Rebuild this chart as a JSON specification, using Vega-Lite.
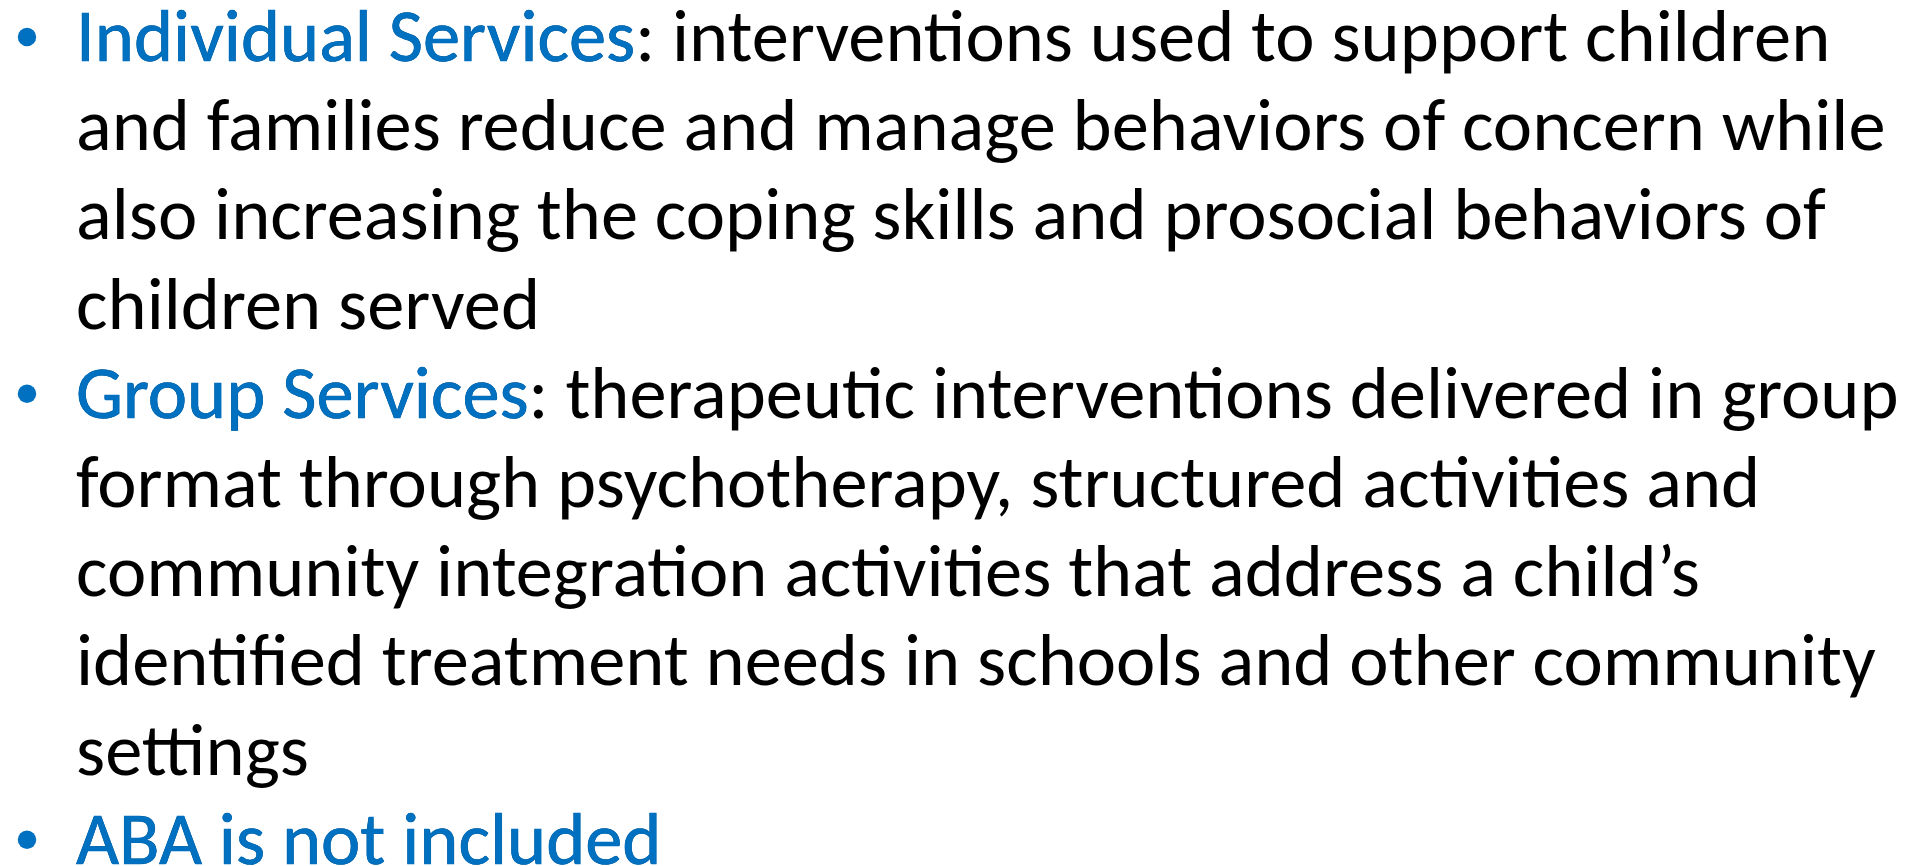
{
  "$schema": "https://vega.github.io/schema/vega-lite/v6.json",
  "width": 1916,
  "height": 866,
  "autosize": {"type": "fit", "contains": "padding"},
  "padding": 0,
  "background": "white",
  "config": {"view": {"stroke": null}},
  "data": {
    "values": [
      {"line": 1, "text": "Individual Services: interventions used to support children", "lead": "Individual Services", "bullet": 1},
      {"line": 2, "text": "and families reduce and manage behaviors of concern while", "lead": "", "bullet": 0},
      {"line": 3, "text": "also increasing the coping skills and prosocial behaviors of", "lead": "", "bullet": 0},
      {"line": 4, "text": "children served", "lead": "", "bullet": 0},
      {"line": 5, "text": "Group Services: therapeutic interventions delivered in group", "lead": "Group Services", "bullet": 1},
      {"line": 6, "text": "format through psychotherapy, structured activities and", "lead": "", "bullet": 0},
      {"line": 7, "text": "community integration activities that address a child’s", "lead": "", "bullet": 0},
      {"line": 8, "text": "identified treatment needs in schools and other community", "lead": "", "bullet": 0},
      {"line": 9, "text": "settings", "lead": "", "bullet": 0},
      {"line": 10, "text": "ABA is not included", "lead": "ABA is not included", "bullet": 1}
    ]
  },
  "encoding": {
    "y": {"field": "line", "type": "quantitative", "axis": null, "scale": {"domain": [0.3386, 10.047], "range": [0, 866], "zero": false, "nice": false}}
  },
  "layer": [
    {
      "mark": {"type": "text", "align": "left", "baseline": "alphabetic", "font": "Carlito, Lato", "fontSize": 74.5, "color": "#000000"},
      "encoding": {
        "x": {"datum": 1, "type": "quantitative", "axis": null, "scale": {"domain": [0, 1], "range": [27, 76], "zero": false, "nice": false}},
        "text": {"field": "text"}
      }
    },
    {
      "transform": [{"filter": "datum.lead != ''"}],
      "mark": {"type": "text", "align": "left", "baseline": "alphabetic", "font": "Carlito, Lato", "fontSize": 74.5, "color": "#0070C0", "stroke": "#0070C0", "strokeWidth": 0.6},
      "encoding": {
        "x": {"datum": 1, "type": "quantitative"},
        "text": {"field": "lead"}
      }
    },
    {
      "transform": [{"filter": "datum.bullet == 1"}],
      "mark": {"type": "point", "shape": "circle", "filled": true, "size": 340, "color": "#0070C0", "opacity": 1},
      "encoding": {
        "x": {"datum": 0, "type": "quantitative"},
        "yOffset": {"value": -24}
      }
    }
  ]
}
